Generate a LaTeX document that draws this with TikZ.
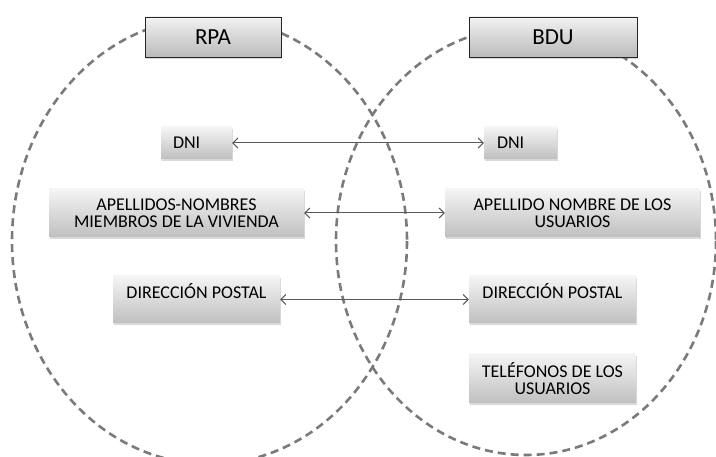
\documentclass[tikz,border=0pt]{standalone}
\usepackage{fontspec}
\setmainfont{Carlito}
\usetikzlibrary{arrows.meta,shadows}

\begin{document}
\begin{tikzpicture}[x=1pt, y=-1pt,
	venn/.style={draw=black!52, line width=2.6pt, dash pattern=on 8pt off 5pt},
	head/.style={draw=black!85, line width=0.9pt, top color=black!5, bottom color=black!27, minimum height=40pt, font=\fontsize{23}{26}\selectfont, drop shadow={opacity=0.3, shadow xshift=0.5pt, shadow yshift=-2pt}},
	field/.style={top color=black!4, bottom color=black!25, inner sep=0pt, align=center, font=\fontsize{18}{17}\selectfont, drop shadow={opacity=0.3, shadow xshift=0.5pt, shadow yshift=-2.5pt}},
	raised/.style={text height=13pt, text depth=14pt},
	link/.style={draw=black!65, line width=1pt, {Straight Barb[length=5pt,width=10pt]}-{Straight Barb[length=5pt,width=10pt]}}]
		%%%%% START %%%%%
		\useasboundingbox (0, 0) rectangle (716, 457);
		
		\draw[venn] (209.5, 241) ellipse [x radius=197.5, y radius=223];
		\draw[venn] (526, 241) ellipse [x radius=190, y radius=214];
		
		\node[head, minimum width=136pt] (rpa) at (213, 37) {RPA};
		\node[head, minimum width=168pt] (bdu) at (553, 37) {BDU};
		
		\node[field, minimum width=71pt, minimum height=32pt, text width=47pt, align=left] (dniA) at (196.5, 143) {DNI};
		\node[field, minimum width=73pt, minimum height=32pt, text width=47pt, align=left] (dniB) at (520.5, 143) {DNI};
		
		\node[field, minimum width=255pt, minimum height=48pt] (nomA) at (176.5, 213) {APELLIDOS-NOMBRES\\MIEMBROS DE LA VIVIENDA};
		\node[field, minimum width=255pt, minimum height=48pt] (nomB) at (572.5, 213) {APELLIDO NOMBRE DE LOS\\USUARIOS};
		
		\node[field, raised, minimum width=167pt, minimum height=47pt] (dirA) at (196.5, 299.5) {DIRECCIÓN POSTAL};
		\node[field, raised, minimum width=167pt, minimum height=47pt] (dirB) at (552.5, 299.5) {DIRECCIÓN POSTAL};
		
		\node[field, minimum width=167pt, minimum height=49pt] (tel) at (552.5, 378.5) {TELÉFONOS DE LOS\\USUARIOS};
		
		\draw[link] (dniA) -- (dniB);
		\draw[link] (nomA) -- (nomB);
		\draw[link] (dirA) -- (dirB);
		%%%%% END %%%%%
\end{tikzpicture}
\end{document}
